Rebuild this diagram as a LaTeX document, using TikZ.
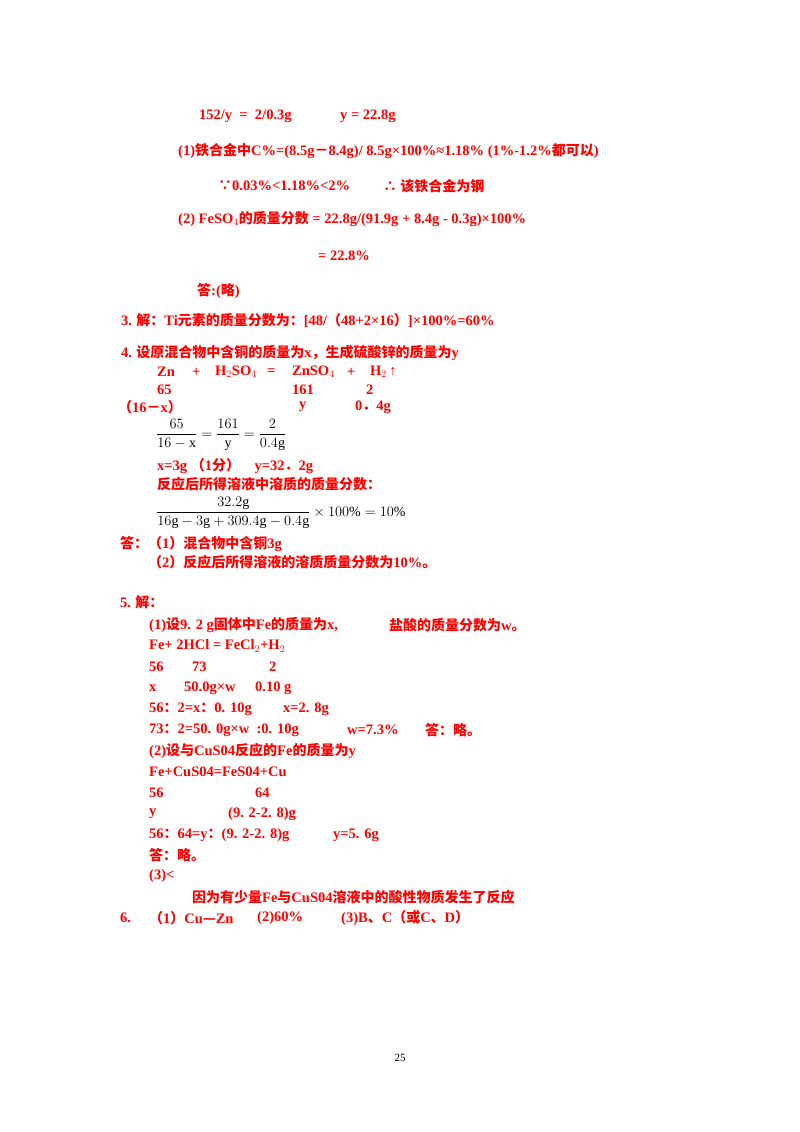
\documentclass[tikz,border=0pt]{standalone}
\usepackage{amsmath}
\usepackage{fontspec}
\setmainfont{Liberation Serif}
\newfontfamily\cjk{Noto Sans CJK SC}
\newcommand{\zh}[1]{{\cjk\fontsize{14}{16}\selectfont #1}}
\begin{document}
\begin{tikzpicture}[x=1pt,y=-1pt,
  t/.style={anchor=west,inner sep=0pt,text=red,font=\fontsize{14.5}{16}\selectfont\bfseries},
  m/.style={anchor=west,inner sep=0pt,font=\fontsize{14}{16}\selectfont}]
\useasboundingbox (0,0) rectangle (800,1132);
\node[t] (a1) at (199,116) {152/y \ = \ 2/0.3g};
\node[t] (a2) at (340,116) {y = 22.8g};
\node[t] (b1) at (178,151) {(1)\zh{铁合金中}C\%=(8.5g\zh{－}8.4g)/ 8.5g×100\%≈1.18\% (1\%-1.2\%\zh{都可以})};
\node[t] (c1) at (218,186) {\zh{∵}0.03\%<1.18\%<2\%};
\node[t] (c2) at (383,186) {\zh{∴ 该铁合金为钢}};
\node[t] (d1) at (178,219) {(2) FeSO$_4$\zh{的质量分数} = 22.8g/(91.9g + 8.4g - 0.3g)×100\%};
\node[t] (e1) at (318,256) {= 22.8\%};
\node[t] (f1) at (197,291) {\zh{答}:(\zh{略})};
\node[t] (g1) at (121,320) {3.\zh{ 解：}Ti\zh{元素的质量分数为：}[48/\zh{（}48+2×16\zh{）}]×100\%=60\%};
\node[t] (h1) at (121,353) {4.\zh{ 设原混合物中含铜的质量为}x\zh{，生成硫酸锌的质量为}y};
\node[t] (h2) at (157,372) {Zn};
\node[t] (h3) at (192,372) {+};
\node[t] (h4) at (215,372) {H$_2$SO$_4$};
\node[t] (h5) at (267,372) {=};
\node[t] (h6) at (292,372) {ZnSO$_4$};
\node[t] (h7) at (347,372) {+};
\node[t] (h8) at (370,372) {H$_2$\,↑};
\node[t] (i1) at (157,390) {65};
\node[t] (i2) at (292,390) {161};
\node[t] (i3) at (366,390) {2};
\node[t] (j1) at (118,407) {\zh{（}16\zh{－}x\zh{）}};
\node[t] (j2) at (299,407) {y};
\node[t] (j3) at (355,407) {0\zh{．}4g};
\node[m] (k1) at (156,435) {$\dfrac{65}{16-\mathrm{x}}=\dfrac{161}{\mathrm{y}}=\dfrac{2}{0.4\mathrm{g}}$};
\node[t] (l1) at (157,466) {x=3g \zh{（}1\zh{分）}\quad y=32\zh{．}2g};
\node[t] (l2) at (157,484) {\zh{反应后所得溶液中溶质的质量分数：}};
\node[m] (m1) at (156,513) {$\dfrac{32.2\mathrm{g}}{16\mathrm{g}-3\mathrm{g}+309.4\mathrm{g}-0.4\mathrm{g}}\times100\%=10\%$};
\node[t] (n1) at (120,544) {\zh{答：（}1\zh{）混合物中含铜}3g};
\node[t] (n2) at (148,562) {\zh{（}2\zh{）反应后所得溶液的溶质质量分数为}10\%\zh{。}};
\node[t] (o1) at (120,602) {5.\zh{ 解：}};
\node[t] (o2) at (149,625) {(1)\zh{设}9. 2 g\zh{固体中}Fe\zh{的质量为}x,};
\node[t] (o3) at (389,625) {\zh{盐酸的质量分数为}w\zh{。}};
\node[t] (p1) at (149,646) {Fe+ 2HCl = FeCl$_2$+H$_2$};
\node[t] (p2) at (149,667) {56};
\node[t] (p3) at (192,667) {73};
\node[t] (p4) at (269,667) {2};
\node[t] (q1) at (149,688) {x};
\node[t] (q2) at (184,688) {50.0g×w};
\node[t] (q3) at (255,688) {0.10 g};
\node[t] (r1) at (149,709) {56\zh{：}2=x\zh{：}0. 10g};
\node[t] (r2) at (283,709) {x=2. 8g};
\node[t] (s1) at (149,730) {73\zh{：}2=50. 0g×w \ :0. 10g};
\node[t] (s2) at (347,730) {w=7.3\%};
\node[t] (s3) at (425,730) {\zh{答：略。}};
\node[t] (u1) at (149,751) {(2)\zh{设与}CuS04\zh{反应的}Fe\zh{的质量为}y};
\node[t] (u2) at (149,772) {Fe+CuS04=FeS04+Cu};
\node[t] (u3) at (149,793) {56};
\node[t] (u4) at (255,793) {64};
\node[t] (v1) at (149,814) {y};
\node[t] (v2) at (228,814) {(9. 2-2. 8)g};
\node[t] (w1) at (149,835) {56\zh{：}64=y\zh{：}(9. 2-2. 8)g};
\node[t] (w2) at (333,835) {y=5. 6g};
\node[t] (x1) at (149,855) {\zh{答：略。}};
\node[t] (x2) at (149,876) {(3)<};
\node[t] (y1) at (192,897) {\zh{因为有少量}Fe\zh{与}CuS04\zh{溶液中的酸性物质发生了反应}};
\node[t] (z1) at (120,918) {6.};
\node[t] (z2) at (149,918) {\zh{（}1\zh{）}Cu\zh{—}Zn};
\node[t] (z3) at (257,918) {(2)60\%};
\node[t] (z4) at (341,918) {(3)B\zh{、}C\zh{（或}C\zh{、}D\zh{）}};
\node[anchor=center,inner sep=0pt,font=\fontsize{11}{13}\selectfont] (pg) at (400,1058) {25};
\end{tikzpicture}
\end{document}
